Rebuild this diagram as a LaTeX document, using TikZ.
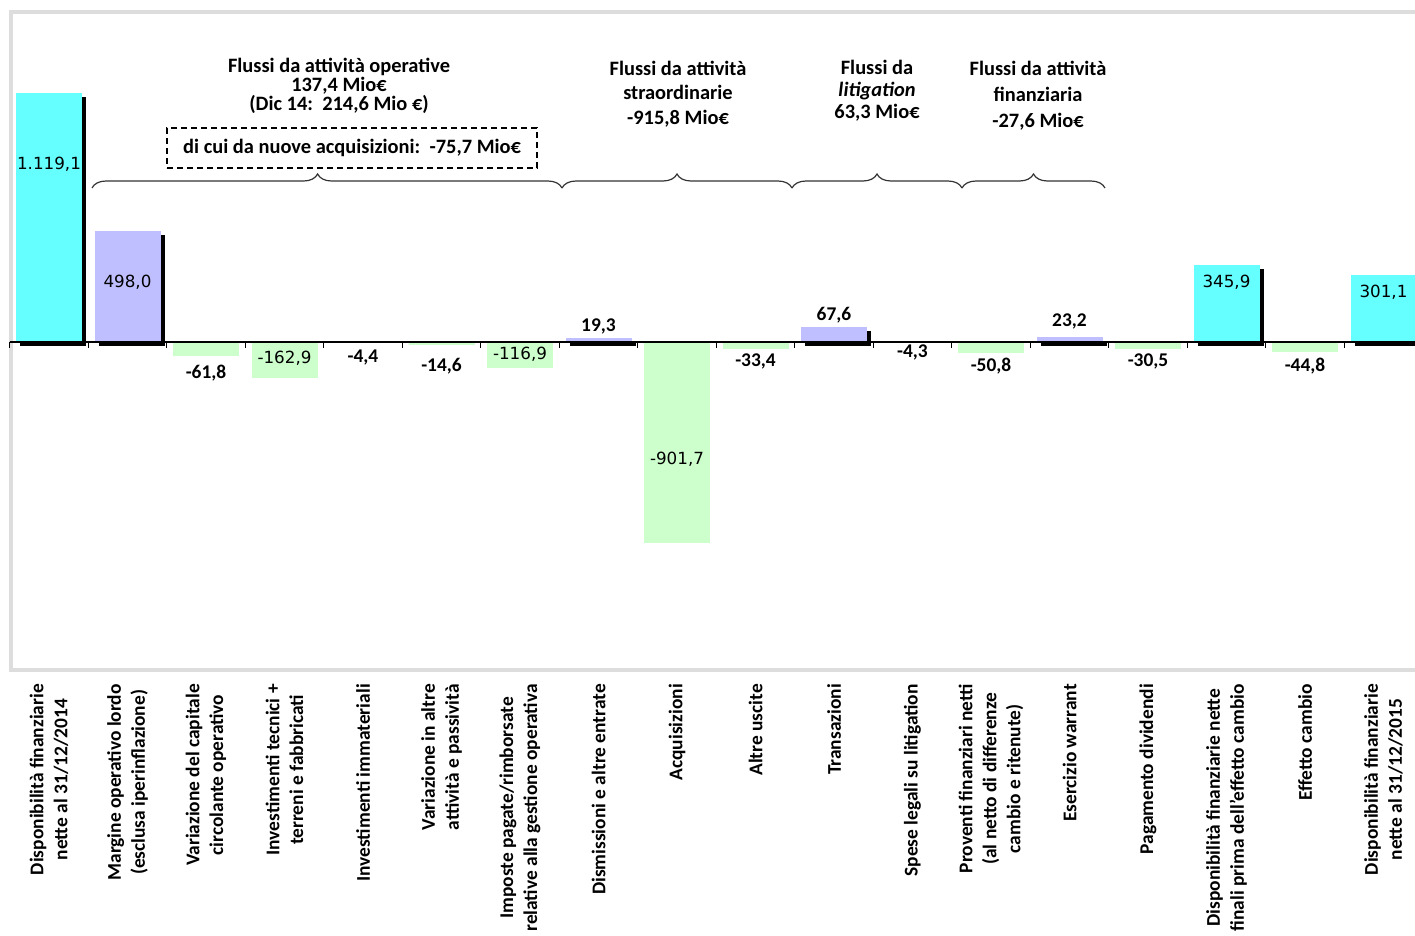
\documentclass[tikz,border=0pt]{standalone}
\usepackage{fontspec}
\setmainfont{Carlito}
\newfontfamily\numfont{DejaVu Sans}
\usetikzlibrary{positioning,calc,decorations.pathreplacing}

\definecolor{totc}{HTML}{66FFFF}
\definecolor{upc}{HTML}{BFBFFF}
\definecolor{downc}{HTML}{CCFFCC}
\definecolor{framec}{HTML}{DDDDDD}

\begin{document}
\begin{tikzpicture}[x=1bp, y=-1bp,
		head/.style={font=\bfseries\fontsize{20.5}{24.5}\selectfont, align=center},
		val/.style={font=\bfseries\fontsize{19.5}{20}\selectfont},
		valin/.style={font=\numfont\fontsize{16.8}{18}\selectfont},
		lbl/.style={font=\bfseries\fontsize{19.5}{24}\selectfont, rotate=90, anchor=east, align=center, inner sep=0pt},
		shadow tot/.style={fill=black}, shadow up/.style={fill=black}, shadow down/.style={},
		bar tot/.style={fill=totc}, bar up/.style={fill=upc}, bar down/.style={fill=downc},
		brc/.style={decorate, decoration={brace, amplitude=14bp}, line width=1.2bp, black!80}]
	\useasboundingbox (0,0) rectangle (1415,935);
	\draw[framec, line width=4bp] (1420,12) -- (11,12) -- (11,670) -- (1420,670);
	% bars and values
	\foreach \v/\f/\ly/\st/\t [count=\i] in {
			1119.1/tot/164/valin/{1.119,1}, 498.0/up/282/valin/{498,0},
			-61.8/down/373/val/{-61,8}, -162.9/down/358/valin/{-162,9},
			-4.4/down/358/val/{-4,4}, -14.6/down/366/val/{-14,6},
			-116.9/down/354/valin/{-116,9}, 19.3/up/326/val/{19,3},
			-901.7/down/459/valin/{-901,7}, -33.4/down/361/val/{-33,4},
			67.6/up/315/val/{67,6}, -4.3/down/352/val/{-4,3},
			-50.8/down/366/val/{-50,8}, 23.2/up/321/val/{23,2},
			-30.5/down/361/val/{-30,5}, 345.9/tot/282/valin/{345,9},
			-44.8/down/366/val/{-44,8}, 301.1/tot/292/valin/{301,1}}{
		\pgfmathsetmacro\cx{49+78.5*(\i-1)}
		\pgfmathsetmacro\ytop{342-0.2225*\v}
		\path[shadow \f] (\cx-29,346) rectangle (\cx+37,\ytop+4);
		\path[bar \f] (\cx-33,342) rectangle (\cx+33,\ytop);
		\node[\st] (val\i) at (\cx,\ly) {\t};
	}
	% axis
	\draw[line width=1.2bp] (9.75,342) -- (1415,342);
	\foreach \k in {0,...,17}
		\draw[line width=1bp] (9.75+78.5*\k,342) -- ++(0,6);
	% category labels
	\foreach \t [count=\i] in {
			{Disponibilità finanziarie\\nette al 31/12/2014},
			{Margine operativo lordo\\(esclusa iperinflazione)},
			{Variazione del capitale\\circolante operativo},
			{Investimenti tecnici +\\terreni e fabbricati},
			{Investimenti immateriali},
			{Variazione in altre\\attività e passività},
			{Imposte pagate/rimborsate\\relative alla gestione operativa},
			{Dismissioni e altre entrate},
			{Acquisizioni},
			{Altre uscite},
			{Transazioni},
			{Spese legali su litigation},
			{Proventi finanziari netti\\(al netto di differenze\\cambio e ritenute)},
			{Esercizio warrant},
			{Pagamento dividendi},
			{Disponibilità finanziarie nette\\finali prima dell'effetto cambio},
			{Effetto cambio},
			{Disponibilità finanziarie\\nette al 31/12/2015}}{
		\pgfmathsetmacro\cx{49+78.5*(\i-1)}
		\node[lbl] (cat\i) at (\cx,684) {\t};
	}
	% group headers
	\node[head, font=\bfseries\fontsize{20.5}{17.5}\selectfont] (hop) at (339,86) {Flussi da attività operative\\137,4 Mio€\\(Dic 14:\ \ 214,6 Mio €)};
	\node[draw, dash pattern=on 6bp off 4bp, line width=1.5bp, minimum width=370bp, minimum height=40bp, font=\bfseries\fontsize{20.5}{20}\selectfont] (acq) at (352,148) {di cui da nuove acquisizioni:\ \ -75,7 Mio€};
	\node[head] (hstr) at (678,94) {Flussi da attività\\straordinarie\\-915,8 Mio€};
	\node[head, font=\bfseries\fontsize{20.5}{22}\selectfont] (hlit) at (877,91) {Flussi da\\\textit{litigation}\\63,3 Mio€};
	\node[head, font=\bfseries\fontsize{20.5}{26}\selectfont] (hfin) at (1038,96) {Flussi da attività\\finanziaria\\-27,6 Mio€};
	% braces
	\coordinate (b0) at (92,188);
	\coordinate (b1) at (562,188);
	\coordinate (b2) at (792,188);
	\coordinate (b3) at (962,188);
	\coordinate (b4) at (1105,188);
	\draw[brc, decoration={aspect=0.48}] (b0) -- (b1);
	\draw[brc] (b1) -- (b2);
	\draw[brc] (b2) -- (b3);
	\draw[brc] (b3) -- (b4);
\end{tikzpicture}
\end{document}
